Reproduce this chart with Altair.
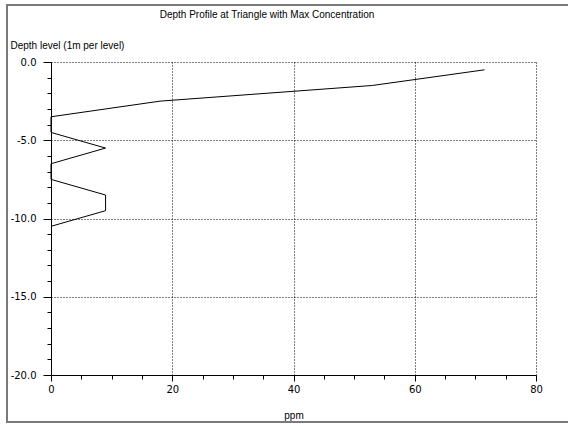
import altair as alt
import pandas as pd

# data
depth = [-0.5, -1.5, -2.5, -3.5, -4.5, -5.5, -6.5, -7.5, -8.5, -9.5, -10.5]
ppm = [71.5, 53.0, 18.0, 0.0, 0.0, 9.0, 0.0, 0.0, 9.0, 9.0, 0.0]
x_ticks = list(range(0, 81, 5))
y_ticks = list(range(-20, 1))
title_text = "Depth Profile at Triangle with Max Concentration"

df = pd.DataFrame({"depth": depth, "ppm": ppm, "idx": list(range(len(depth)))})

LAB_FONT = "DejaVu Sans"
TXT_FONT = "Liberation Sans"

x_axis = alt.Axis(
    values=x_ticks,
    labelExpr="datum.value % 20 === 0 ? toString(datum.value) : ''",
    tickSize={"condition": {"test": "datum.value % 20 === 0", "value": 6}, "value": 4},
    grid=True,
    gridDash=[1, 2],
    gridColor="black",
    gridWidth=1,
    gridOpacity={"condition": {"test": "datum.value % 20 === 0 && datum.value > 0", "value": 1}, "value": 0},
    domainColor="black",
    tickColor="black",
    labelColor="black",
    labelFont=LAB_FONT,
    labelFontSize=10,
    labelPadding=3,
    labelFlush=False,
    labelOverlap=False,
    labelBound=False,
    title="ppm",
    titleFont=TXT_FONT,
    titleFontSize=10,
    titleFontWeight="normal",
    titleColor="black",
    titleBaseline="middle",
    titleY=40,
)

y_axis = alt.Axis(
    values=y_ticks,
    labelExpr="datum.value % 5 === 0 ? toString(datum.value) + '.0' : ''",
    tickSize={"condition": {"test": "datum.value % 5 === 0", "value": 8}, "value": 4},
    grid=True,
    gridDash=[1, 2],
    gridColor="black",
    gridWidth=1,
    gridOpacity={"condition": {"test": "datum.value % 5 === 0 && datum.value > -20", "value": 1}, "value": 0},
    domainColor="black",
    tickColor="black",
    labelColor="black",
    labelFont=LAB_FONT,
    labelFontSize=10,
    labelPadding=7,
    labelFlush=False,
    labelOverlap=False,
    labelBound=False,
    title="Depth level (1m per level)",
    titleFont=TXT_FONT,
    titleFontSize=10,
    titleFontWeight="normal",
    titleColor="black",
    titleAngle=0,
    titleAlign="left",
    titleBaseline="middle",
    titleX=-41,
    titleY=-17,
)

line = alt.Chart(df).mark_line(color="black", strokeWidth=1).encode(
    x=alt.X("ppm:Q", scale=alt.Scale(domain=[0, 80], nice=False, zero=False), axis=x_axis),
    y=alt.Y("depth:Q", scale=alt.Scale(domain=[-20, 0], nice=False, zero=False), axis=y_axis),
    order=alt.Order("idx:Q"),
)

frame = alt.Chart(pd.DataFrame({"a": [0]})).mark_rect(
    filled=False, stroke="#7a7a7a", strokeWidth=2
).encode(
    x=alt.value(-44), x2=alt.value(620), y=alt.value(-57), y2=alt.value(360)
)

title = alt.Chart(pd.DataFrame({"t": [title_text]})).mark_text(
    font=TXT_FONT, fontSize=10, color="black", align="center", baseline="middle"
).encode(
    text="t:N", x=alt.value(216), y=alt.value(-47)
)

chart = alt.layer(frame, line, title).properties(
    width=485,
    height=313,
    autosize="none",
    padding={"left": 51, "top": 62, "right": 32, "bottom": 52},
    background="white",
).configure_view(stroke=None)

chart.save("out.html", embed_options={"renderer": "svg", "actions": False})
